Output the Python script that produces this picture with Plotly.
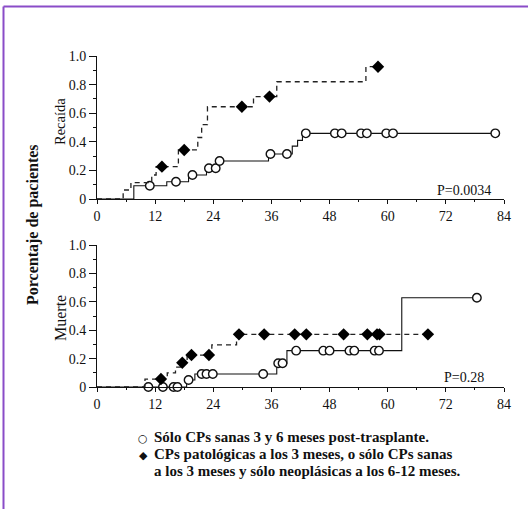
import plotly.graph_objects as go
import numpy as np

W, H = 528, 509

# ---- data (months, cumulative proportion) ----
rel_g1_t = [0, 7.6, 14.4, 18.9, 22.6, 24.9, 35.4, 40.3, 41.4, 42.4, 82.2]
rel_g1_v = [0, 0.093, 0.121, 0.168, 0.215, 0.266, 0.315, 0.37, 0.41, 0.459, 0.459]
rel_g1_cens = [10.9, 16.3, 19.7, 23.1, 24.5, 25.3, 35.8, 39.2, 43.1, 49.1, 50.5, 54.5, 55.7, 59.7, 61.1, 82.2]

rel_g2_t = [0, 5.4, 7.0, 11.3, 12.2, 16.8, 20.8, 21.6, 22.8, 32.3, 37.1, 55.5, 58.0]
rel_g2_v = [0, 0.063, 0.114, 0.168, 0.226, 0.343, 0.43, 0.52, 0.645, 0.716, 0.82, 0.925, 0.925]
rel_g2_cens = [13.4, 18.0, 29.9, 35.6, 58.0]

mue_g1_t = [0, 18.5, 20.2, 37.1, 39.2, 62.9, 78.4]
mue_g1_v = [0, 0.049, 0.092, 0.167, 0.256, 0.629, 0.629]
mue_g1_cens = [10.6, 13.6, 15.8, 16.6, 18.9, 21.6, 22.6, 23.9, 34.3, 37.4, 38.3, 41.1,
               46.7, 48.0, 52.1, 53.1, 57.3, 58.2, 78.4]

mue_g2_t = [0, 9.9, 14.5, 16.2, 17.2, 18.6, 23.7, 28.8, 68.3]
mue_g2_v = [0, 0.056, 0.10, 0.14, 0.171, 0.225, 0.296, 0.371, 0.371]
mue_g2_cens = [13.2, 17.6, 19.5, 23.1, 29.3, 34.5, 40.8, 43.2, 50.9, 55.8, 57.8, 58.3, 68.3]

x_ticks = [0, 12, 24, 36, 48, 60, 72, 84]
y_ticks = [0, 0.2, 0.4, 0.6, 0.8, 1.0]
y_ticktext = ["0", "0.2", "0.4", "0.6", "0.8", "1.0"]

p_rel = "P=0.0034"
p_mue = "P=0.28"
legend1 = "Sólo CPs sanas 3 y 6 meses post-trasplante."
legend2 = "CPs patológicas a los 3 meses, o sólo CPs sanas"
legend3 = "a los 3 meses y sólo neoplásicas a los 6-12 meses."


def step_at(ts, vs, x):
    idx = np.searchsorted(np.array(ts), x, side="right") - 1
    return vs[max(idx, 0)]


FONT = "Liberation Serif"
INK = "#111"
fig = go.Figure()


def add_group(t, v, cens, xa, ya, dashed):
    fig.add_trace(go.Scatter(
        x=t, y=v, mode="lines", line_shape="hv", xaxis=xa, yaxis=ya,
        line=dict(color="#222" if dashed else INK, width=1.3 if dashed else 1.1,
                  dash="5px,4px" if dashed else "solid"),
        showlegend=False, hoverinfo="skip"))
    cy = [step_at(t, v, c) for c in cens]
    if dashed:
        mk = dict(symbol="diamond", size=9.5, color="black", line=dict(width=0))
    else:
        mk = dict(symbol="circle", size=8.5, color="white", line=dict(width=1.4, color=INK))
    fig.add_trace(go.Scatter(x=cens, y=cy, mode="markers", xaxis=xa, yaxis=ya,
                             marker=mk, showlegend=False, cliponaxis=False))


add_group(rel_g1_t, rel_g1_v, rel_g1_cens, "x", "y", False)
add_group(rel_g2_t, rel_g2_v, rel_g2_cens, "x", "y", True)
add_group(mue_g1_t, mue_g1_v, mue_g1_cens, "x2", "y2", False)
add_group(mue_g2_t, mue_g2_v, mue_g2_cens, "x2", "y2", True)

xl, xr = 97, 504
dom_x = [xl / W, xr / W]
top_dom = [1 - 199 / H, 1 - 56 / H]
bot_dom = [1 - 387 / H, 1 - 245 / H]

tickfont = dict(family=FONT, size=14, color=INK)
xax = dict(range=[0, 84], tickvals=x_ticks, showline=True, linecolor=INK, linewidth=1,
           ticks="outside", ticklen=4, tickcolor=INK, showgrid=False, zeroline=False,
           tickfont=tickfont, domain=dom_x, automargin=False,
           minor=dict(dtick=6, tick0=0, ticklen=2, ticks="outside", tickcolor=INK, showgrid=False))
yax = dict(range=[0, 1], tickvals=y_ticks, ticktext=y_ticktext, showline=True, linecolor=INK,
           linewidth=1, ticks="outside", ticklen=7, tickcolor=INK, showgrid=False,
           zeroline=False, tickfont=tickfont, automargin=False,
           minor=dict(dtick=0.1, tick0=0, ticklen=3, ticks="outside", tickcolor=INK, showgrid=False))

fig.update_layout(
    width=W, height=H, autosize=False,
    margin=dict(l=0, r=0, t=0, b=0, pad=0, autoexpand=False),
    paper_bgcolor="white", plot_bgcolor="white",
    xaxis=dict(xax, anchor="y"),
    yaxis=dict(yax, domain=top_dom, anchor="x"),
    xaxis2=dict(xax, anchor="y2"),
    yaxis2=dict(yax, domain=bot_dom, anchor="x2"),
    font=dict(family=FONT, color=INK),
)


def px(x):
    return x / W


def py(y):
    return 1 - y / H


def note(text, x, y, size, angle=0, xanchor="center", family=FONT):
    return dict(text=text, x=px(x), y=py(y), xref="paper", yref="paper", showarrow=False,
                textangle=angle, xanchor=xanchor, yanchor="middle",
                font=dict(family=family, size=size, color=INK))


ann = [
    note(p_rel, 464, 190, 14),
    note(p_mue, 463.5, 377, 14),
    note("Recaída", 60, 122, 14.5, -90),
    note("Muerte", 60, 318, 16, -90),
    note("<b>Porcentaje de pacientes</b>", 33, 225, 16, -90),
]
for txt, yy in [(legend1, 437), (legend2, 454), (legend3, 471)]:
    ann.append(note("<b>" + txt + "</b>", 152, yy, 15, xanchor="left"))
ann.append(note("○", 143, 438, 11, family="DejaVu Sans"))
ann.append(note("◆", 143, 455, 11, family="DejaVu Sans"))
fig.update_layout(annotations=ann)

# purple frame (left and top edges)
fig.add_shape(type="line", xref="paper", yref="paper", x0=px(3.5), x1=px(3.5), y0=0, y1=py(6.5),
              line=dict(color="#8a4cc8", width=2))
fig.add_shape(type="line", xref="paper", yref="paper", x0=px(3.5), x1=1, y0=py(6.5), y1=py(6.5),
              line=dict(color="#8a4cc8", width=2))

fig.write_html("out.html", config={"displayModeBar": False},
               post_script="document.body.style.margin='0';document.body.style.padding='0';"
                           "document.documentElement.style.overflow='hidden';")
